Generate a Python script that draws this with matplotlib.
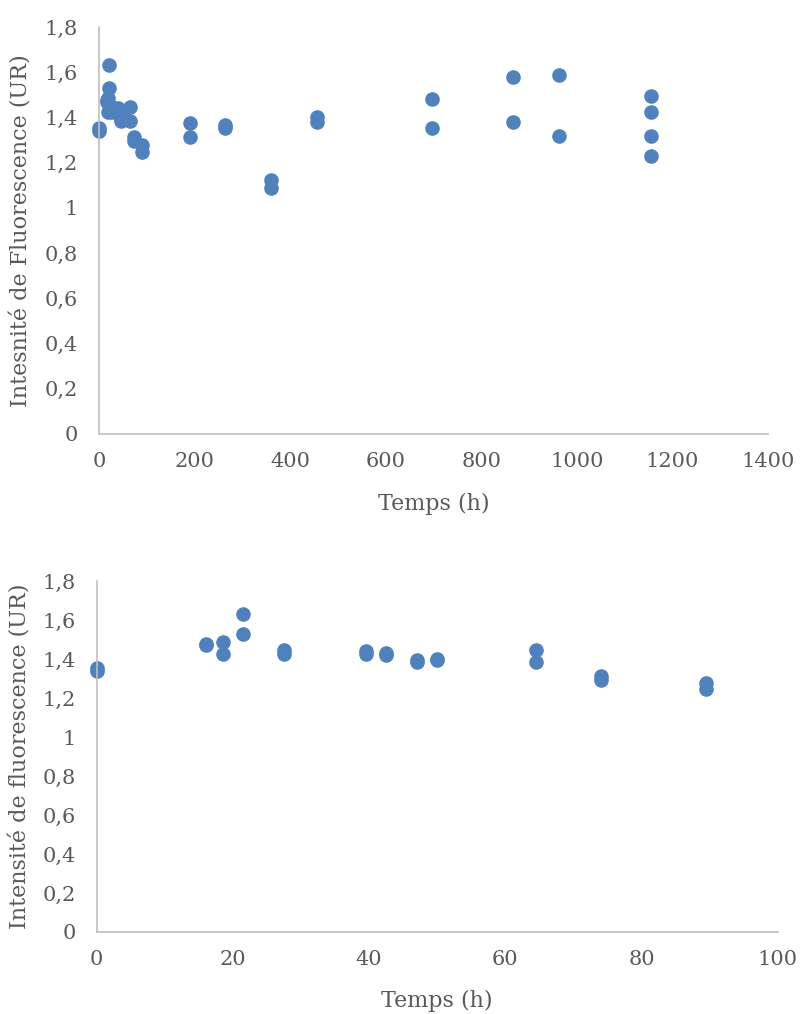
import matplotlib
matplotlib.use("Agg")
import matplotlib.pyplot as plt

# early sampling (0-90 h), shown on both charts
hours_early = [0, 0, 16, 16, 18.5, 18.5, 21.5, 21.5, 27.5, 27.5, 39.5, 39.5,
               42.5, 42.5, 47, 47, 50, 50, 64.5, 64.5, 74, 74, 89.5, 89.5]
fluo_early = [1.34, 1.355, 1.47, 1.478, 1.487, 1.426, 1.631, 1.528, 1.446, 1.425, 1.441, 1.426,
              1.432, 1.42, 1.395, 1.384, 1.40, 1.396, 1.446, 1.385, 1.315, 1.295, 1.277, 1.246]

# later sampling, top chart only
hours_late = [191, 191, 264, 264, 360, 360, 457, 457, 698, 698, 866, 866, 962, 962,
              1155, 1155, 1155, 1155]
fluo_late = [1.376, 1.314, 1.365, 1.354, 1.125, 1.09, 1.40, 1.38, 1.482, 1.354, 1.579, 1.381,
             1.588, 1.319, 1.495, 1.425, 1.319, 1.231]

y_ticks = [0, 0.2, 0.4, 0.6, 0.8, 1, 1.2, 1.4, 1.6, 1.8]
y_labels = ["0", "0,2", "0,4", "0,6", "0,8", "1", "1,2", "1,4", "1,6", "1,8"]

blue = "#4F81BD"
grey = "#BFBFBF"
txt = "#595959"
plt.rcParams["font.family"] = ["DejaVu Serif"]

fig = plt.figure(figsize=(8, 10.14), dpi=100)
ax1 = fig.add_axes([0.12375, 0.572, 0.836, 0.4014])
ax2 = fig.add_axes([0.121, 0.0809, 0.851, 0.346])


def style(ax, xmax, xstep, ylabel, ylab_x, xlab_y):
    ax.set_ylim(0, 1.8)
    ax.set_xlim(0, xmax)
    ax.set_yticks(y_ticks)
    ax.set_yticklabels(y_labels)
    ax.set_xticks(range(0, xmax + 1, xstep))
    for s in ["top", "right"]:
        ax.spines[s].set_visible(False)
    for s in ["left", "bottom"]:
        ax.spines[s].set_color(grey)
        ax.spines[s].set_linewidth(1.2)
    ax.tick_params(axis="both", length=0, labelsize=15, labelcolor=txt)
    ax.tick_params(axis="y", pad=15)
    ax.tick_params(axis="x", pad=13)
    ax.set_ylabel(ylabel, fontsize=16, color=txt)
    ax.set_xlabel("Temps (h)", fontsize=16, color=txt)
    ax.yaxis.set_label_coords(ylab_x, 0.5)
    ax.xaxis.set_label_coords(0.5, xlab_y)


ax1.plot(hours_early + hours_late, fluo_early + fluo_late, "o", color=blue,
         markersize=10.5, markeredgewidth=0, clip_on=False)
style(ax1, 1400, 200, "Intesnité de Fluorescence (UR)", -0.100, -0.145)

ax2.plot(hours_early, fluo_early, "o", color=blue, markersize=10.5,
         markeredgewidth=0, clip_on=False)
style(ax2, 100, 20, "Intensité de fluorescence (UR)", -0.0955, -0.165)

fig.savefig("out.png", dpi=100)
